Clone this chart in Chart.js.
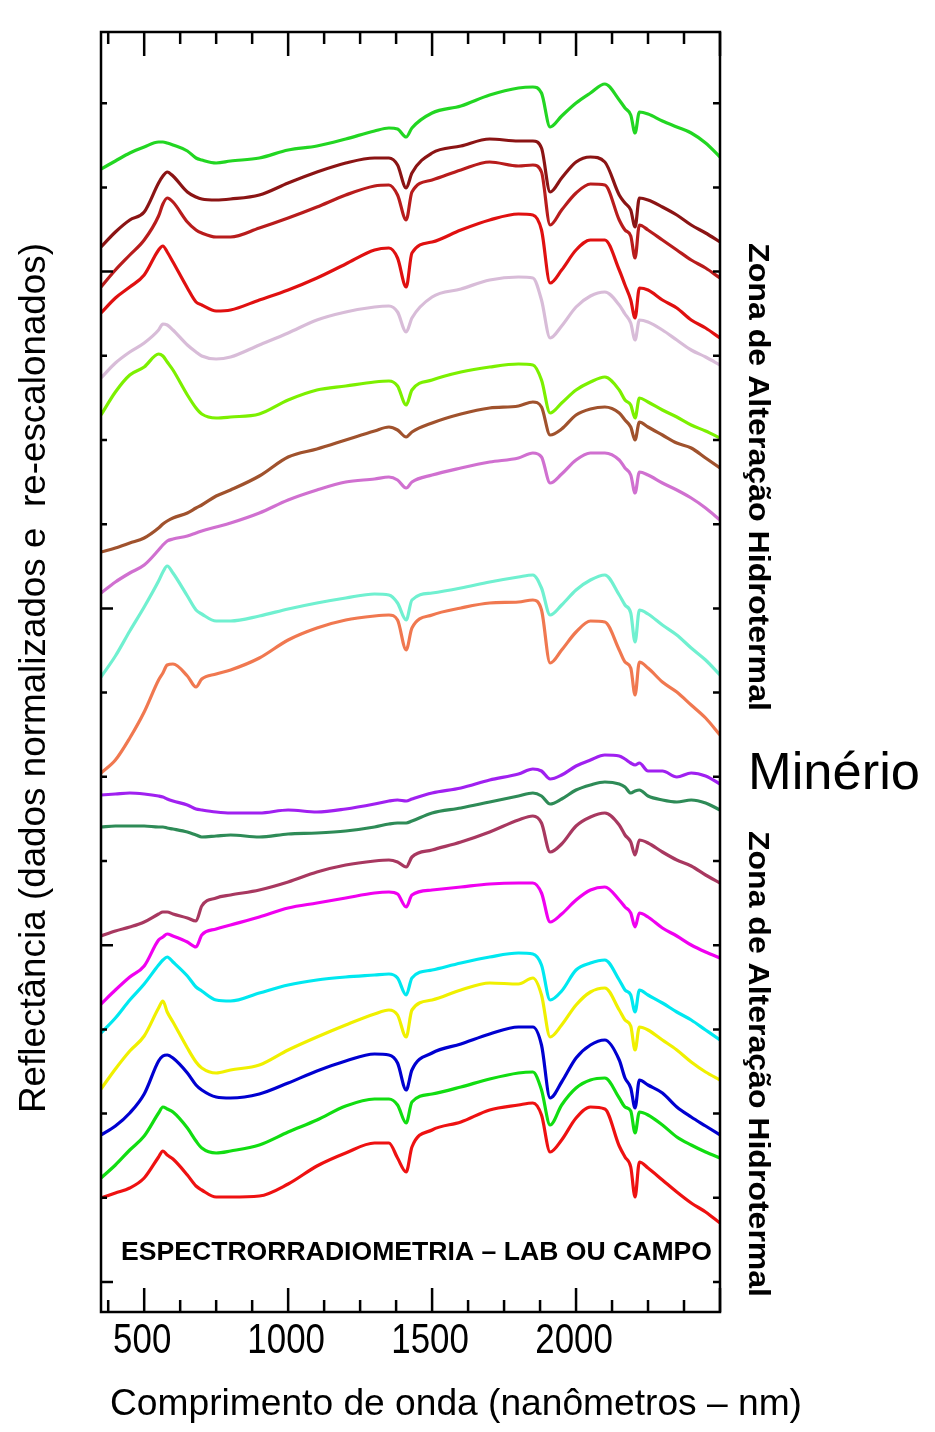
<!DOCTYPE html>
<html><head><meta charset="utf-8">
<script src="https://cdn.jsdelivr.net/npm/chart.js@4.4.1/dist/chart.umd.min.js"></script>
<style>html,body{margin:0;padding:0;background:#fff;}canvas{display:block;}</style>
</head><body>
<canvas id="c" width="935" height="1432"></canvas>
<script>
// Wavelengths (nm) at which the spectra were read
const WAVELENGTHS = [350,400,450,500,550,565,580,600,650,680,700,750,800,900,1000,1100,1200,1300,1350,1380,1410,1430,1500,1600,1700,1800,1850,1880,1910,1950,2000,2050,2100,2150,2170,2190,2205,2220,2250,2300,2350,2400,2450,2500];

// Offset (re-scaled) reflectance, arbitrary units, top curve first
const S01 = [114.3,115.1,115.9,116.5,117.0,117.0,116.9,116.7,116.1,115.4,115.2,114.9,115.1,115.4,116.2,116.6,117.3,118.1,118.4,118.3,117.5,118.4,119.9,120.6,121.7,122.4,122.5,121.9,118.5,119.6,120.9,121.9,122.8,121.2,120.4,119.7,117.9,120.0,119.8,119.1,118.5,117.9,116.9,115.5];
const S02 = [106.5,108.0,109.2,110.0,112.9,113.6,114.0,113.6,112.0,111.5,111.3,111.2,111.3,111.7,112.9,114.0,114.9,115.4,115.4,114.7,112.4,113.9,115.9,116.6,117.3,117.1,117.1,116.4,112.0,113.4,115.0,115.5,115.0,111.7,110.9,110.2,108.5,111.4,111.2,110.5,109.7,108.7,107.9,107.0];
const S03 = [102.5,104.2,105.7,107.2,109.6,110.8,111.4,111.0,109.0,108.2,107.9,107.5,107.5,108.4,109.4,110.5,111.7,112.6,112.7,111.7,109.2,112.0,113.2,114.2,115.0,114.6,114.7,114.0,108.7,110.2,111.9,112.8,112.7,109.2,108.2,107.6,105.4,108.7,108.2,107.2,106.2,105.2,104.4,103.4];
const S04 = [99.9,101.4,102.5,103.7,106.2,106.6,106.0,105.0,102.4,101.0,100.7,100.1,100.2,101.2,102.2,103.4,104.8,106.2,106.4,105.4,102.5,105.9,107.0,108.2,109.2,109.8,109.7,108.2,102.9,104.2,106.2,107.2,107.2,104.2,102.7,101.2,99.4,102.4,102.2,101.2,100.4,99.2,98.4,97.4];
const S05 = [93.4,94.9,96.0,96.9,98.2,98.8,98.7,98.2,96.7,96.0,95.6,95.3,95.5,96.7,97.9,99.2,100.0,100.5,100.6,100.0,98.0,99.4,101.5,102.3,103.2,103.5,103.4,101.2,97.4,98.6,100.5,101.6,102.0,100.7,99.8,98.9,97.2,99.2,99.0,98.2,97.2,96.2,95.5,94.7];
const S06 = [89.7,92.0,93.7,94.5,95.8,95.6,95.0,94.2,91.7,90.4,89.8,89.4,89.5,89.8,91.2,92.2,92.6,93.0,93.1,92.6,90.7,92.2,93.2,94.0,94.5,94.8,94.7,93.2,89.9,90.9,92.2,93.0,93.5,92.2,91.2,90.7,89.4,91.4,91.0,90.2,89.5,88.7,88.1,87.4];
const S07 = [76.0,76.4,76.9,77.4,78.4,78.8,79.1,79.4,79.9,80.4,80.7,81.6,82.2,83.6,85.5,86.3,87.2,88.1,88.5,88.2,87.5,88.0,88.9,89.8,90.4,90.6,91.0,90.5,87.7,88.3,89.7,90.3,90.5,89.9,89.2,88.5,87.2,89.0,88.5,87.7,86.9,86.4,85.4,84.4];
const S08 = [71.9,73.0,73.9,74.7,76.2,76.7,77.1,77.3,77.6,77.9,78.1,78.5,78.9,79.9,81.2,82.2,83.0,83.3,83.5,83.2,82.4,83.0,83.7,84.4,85.0,85.4,85.9,85.5,82.9,83.8,85.2,85.9,85.9,85.2,84.4,83.7,81.9,84.0,83.7,82.9,82.2,81.4,80.4,79.2];
const S09 = [63.5,65.6,68.1,70.5,73.1,74.0,74.6,73.9,71.6,70.2,69.8,69.1,69.1,69.6,70.3,70.9,71.4,71.8,71.7,70.9,69.2,71.2,71.9,72.4,73.0,73.5,73.7,72.4,69.7,70.7,72.2,73.2,73.7,71.7,70.7,69.9,67.0,70.2,69.8,68.7,67.7,66.4,65.2,63.7];
const S10 = [53.9,55.2,57.4,60.0,63.2,63.9,64.7,64.8,63.6,62.5,63.3,63.8,64.2,65.4,67.2,68.4,69.2,69.6,69.7,69.2,66.2,68.4,69.7,70.4,70.9,71.0,71.2,70.2,64.9,66.2,68.0,69.1,69.0,66.2,65.0,64.4,61.7,65.0,64.4,63.0,62.0,60.7,59.4,57.7];
const S11 = [51.7,51.8,51.9,51.8,51.6,51.5,51.3,51.1,50.7,50.3,50.2,50.0,49.9,49.9,50.2,50.0,50.3,50.8,51.1,51.2,51.1,51.3,51.9,52.4,53.2,53.8,54.3,54.1,53.3,53.7,54.6,55.2,55.7,55.6,55.3,54.9,54.7,54.9,54.1,54.1,53.5,53.9,53.6,52.8];
const S12 = [48.5,48.6,48.6,48.6,48.5,48.5,48.4,48.3,48.0,47.7,47.5,47.6,47.7,47.5,47.8,47.9,48.1,48.5,48.8,48.9,48.9,49.1,49.9,50.4,51.0,51.6,51.9,51.6,50.8,51.3,52.2,52.7,53.0,52.8,52.5,51.9,52.1,52.2,51.6,51.2,51.0,51.2,50.9,50.2];
const S13 = [37.6,38.1,38.5,39.0,39.8,40.0,40.0,39.8,39.4,39.1,40.6,41.4,41.7,42.2,43.0,44.0,44.7,45.1,45.2,45.0,44.5,45.5,46.2,47.0,48.0,49.2,49.6,48.9,46.0,46.8,48.6,49.5,49.9,48.7,47.7,47.0,45.7,47.2,46.9,46.0,45.2,44.6,43.7,42.9];
const S14 = [30.8,32.2,33.5,34.6,37.2,37.5,37.8,37.6,37.0,36.5,37.7,38.3,38.7,39.5,40.4,40.9,41.4,41.9,42.0,41.8,40.5,41.7,42.2,42.5,42.8,42.9,42.9,41.9,39.0,39.8,41.2,42.2,42.5,41.2,40.5,39.9,38.5,39.9,39.5,38.4,37.6,36.7,36.0,35.4];
const S15 = [27.9,29.4,31.2,32.8,34.7,35.2,35.5,35.0,33.6,32.5,32.1,31.2,31.1,31.9,32.7,33.2,33.5,33.7,33.8,33.4,31.7,33.4,34.2,34.9,35.5,35.9,35.8,34.7,31.2,32.1,34.2,34.9,35.2,33.2,32.2,31.7,30.0,32.2,31.7,30.9,30.0,29.2,28.2,27.2];
const S16 = [22.3,24.3,26.1,27.6,30.4,31.1,30.0,29.0,26.4,25.0,24.4,23.9,24.2,24.7,26.2,27.5,28.7,29.8,30.2,29.7,27.5,30.2,31.2,32.2,32.9,32.8,33.4,31.7,27.5,28.7,30.7,32.0,32.4,30.2,29.2,28.6,26.2,28.5,28.2,27.2,26.2,25.0,24.0,23.2];
const S17 = [17.7,18.6,19.9,21.8,25.1,25.6,25.7,25.4,23.9,22.7,22.2,21.5,21.4,21.8,22.9,24.1,25.1,25.8,25.7,24.9,22.2,24.2,25.9,26.8,27.8,28.5,28.5,26.7,21.4,23.0,25.4,26.7,27.2,25.2,23.4,22.4,20.4,23.2,22.7,21.9,20.5,19.5,18.6,17.7];
const S18 = [13.4,14.7,16.2,17.6,19.9,20.5,20.3,20.0,18.4,17.1,16.4,15.9,16.1,16.7,18.0,19.2,20.6,21.3,21.3,20.7,18.9,21.0,21.8,22.5,23.3,23.9,24.0,22.2,18.7,20.7,22.4,23.2,23.4,21.4,20.5,20.1,17.9,20.0,19.7,18.7,17.5,16.7,16.0,15.4];
const S19 = [11.4,11.9,12.4,13.4,15.5,16.1,15.7,15.3,13.7,12.6,12.2,11.5,11.5,11.6,12.8,14.6,15.9,16.9,16.9,15.4,14.0,16.5,18.2,19.0,20.2,20.7,20.9,19.7,16.0,17.2,19.4,20.5,20.3,16.6,15.5,14.5,11.5,15.0,14.4,13.2,12.0,10.9,10.0,8.9];

const SERIES = [S01,S02,S03,S04,S05,S06,S07,S08,S09,S10,S11,S12,S13,S14,S15,S16,S17,S18,S19];
const COLORS = ['#22d622','#8b1414','#b81c1c','#e01010','#d8bcd8','#7cf000','#a0522d','#d070d0','#70f0d0','#f07850','#a020f0','#2e8b57','#a83860','#f000f0','#00e8f0','#f0f000','#0000d0','#11dd11','#ee1111'];

// Axis ticks
const X_TICKS = [375,500,625,750,875,1000,1125,1250,1375,1500,1625,1750,1875,2000,2125,2250,2375,2500];
const X_LABEL_VALUES = [500,1000,1500,2000];
const X_TICK_LABELS = ['500','1000','1500','2000'];
const Y_TICKS = [3.0,11.42,19.84,28.26,36.68,45.1,53.52,61.94,70.36,78.78,87.2,95.62,104.04,112.46,120.88];

const TXT = {
  yTitle: 'Reflectância (dados normalizados e  re-escalonados)',
  xTitle: 'Comprimento de onda (nanômetros – nm)',
  zone: 'Zona de Alteração Hidrotermal',
  ore: 'Minério',
  note: 'ESPECTRORRADIOMETRIA – LAB OU CAMPO'
};

function fitText(ctx, text, cx, cy, font, targetW, rot) {
  ctx.save();
  ctx.font = font;
  ctx.translate(cx, cy);
  if (rot) ctx.rotate(rot);
  const w = ctx.measureText(text).width;
  let k = targetW ? targetW / w : 1;
  k = Math.max(0.75, Math.min(1.2, k));
  ctx.scale(k, 1);
  ctx.textAlign = 'center';
  ctx.textBaseline = 'middle';
  ctx.fillStyle = '#000';
  ctx.fillText(text, 0, 0);
  ctx.restore();
}

const decor = {
  id: 'decor',
  afterDatasetsDraw(chart) {
    const {ctx, chartArea: a, scales: {x, y}} = chart;
    ctx.save();
    ctx.strokeStyle = '#000';
    ctx.lineWidth = 2.5;
    ctx.strokeRect(a.left, a.top, a.right - a.left, a.bottom - a.top);
    ctx.beginPath();
    X_TICKS.forEach(v => {
      const px = x.getPixelForValue(v);
      const len = v % 500 === 0 ? 24 : 12;
      ctx.moveTo(px, a.bottom); ctx.lineTo(px, a.bottom - len);
      ctx.moveTo(px, a.top); ctx.lineTo(px, a.top + len);
    });
    Y_TICKS.forEach((v, i) => {
      const py = y.getPixelForValue(v);
      const len = i % 4 === 0 ? 12 : 6;
      ctx.moveTo(a.left, py); ctx.lineTo(a.left + len, py);
      ctx.moveTo(a.right, py); ctx.lineTo(a.right - 7, py);
    });
    ctx.stroke();
    ctx.restore();

    const SANS = '"Liberation Sans", Arial, Helvetica, sans-serif';
    X_LABEL_VALUES.forEach((v, i) => {
      fitText(ctx, X_TICK_LABELS[i], x.getPixelForValue(v) - 2, a.bottom + 29, '42px ' + SANS, X_TICK_LABELS[i].length * 19.4, 0);
    });
    fitText(ctx, TXT.xTitle, 456, 1405, '37px ' + SANS, 692, 0);
    fitText(ctx, TXT.yTitle, 35, 678, '36px ' + SANS, 870, -Math.PI / 2);
    fitText(ctx, TXT.zone, 757, 477, 'bold 30px ' + SANS, 468, Math.PI / 2);
    fitText(ctx, TXT.zone, 757, 1064, 'bold 30px ' + SANS, 466, Math.PI / 2);
    fitText(ctx, TXT.ore, 834, 775, '52px ' + SANS, 172, 0);
    fitText(ctx, TXT.note, 416.5, 1253, 'bold 26px ' + SANS, 591, 0);
  }
};

const datasets = SERIES.map((s, i) => ({
  label: 'Espectro ' + (i + 1),
  data: WAVELENGTHS.map((w, j) => ({x: w, y: s[j]})),
  borderColor: COLORS[i],
  borderWidth: 3.2,
  pointRadius: 0,
  cubicInterpolationMode: 'monotone',
  fill: false
}));

new Chart(document.getElementById('c'), {
  type: 'line',
  data: {datasets},
  options: {
    responsive: false,
    animation: false,
    devicePixelRatio: 1,
    layout: {padding: {left: 101, top: 32, right: 215, bottom: 120}},
    plugins: {legend: {display: false}, tooltip: {enabled: false}, title: {display: false}},
    scales: {
      x: {type: 'linear', min: 350, max: 2500, display: false},
      y: {type: 'linear', min: 0, max: 128, display: false}
    }
  },
  plugins: [decor]
});
</script>
</body></html>
